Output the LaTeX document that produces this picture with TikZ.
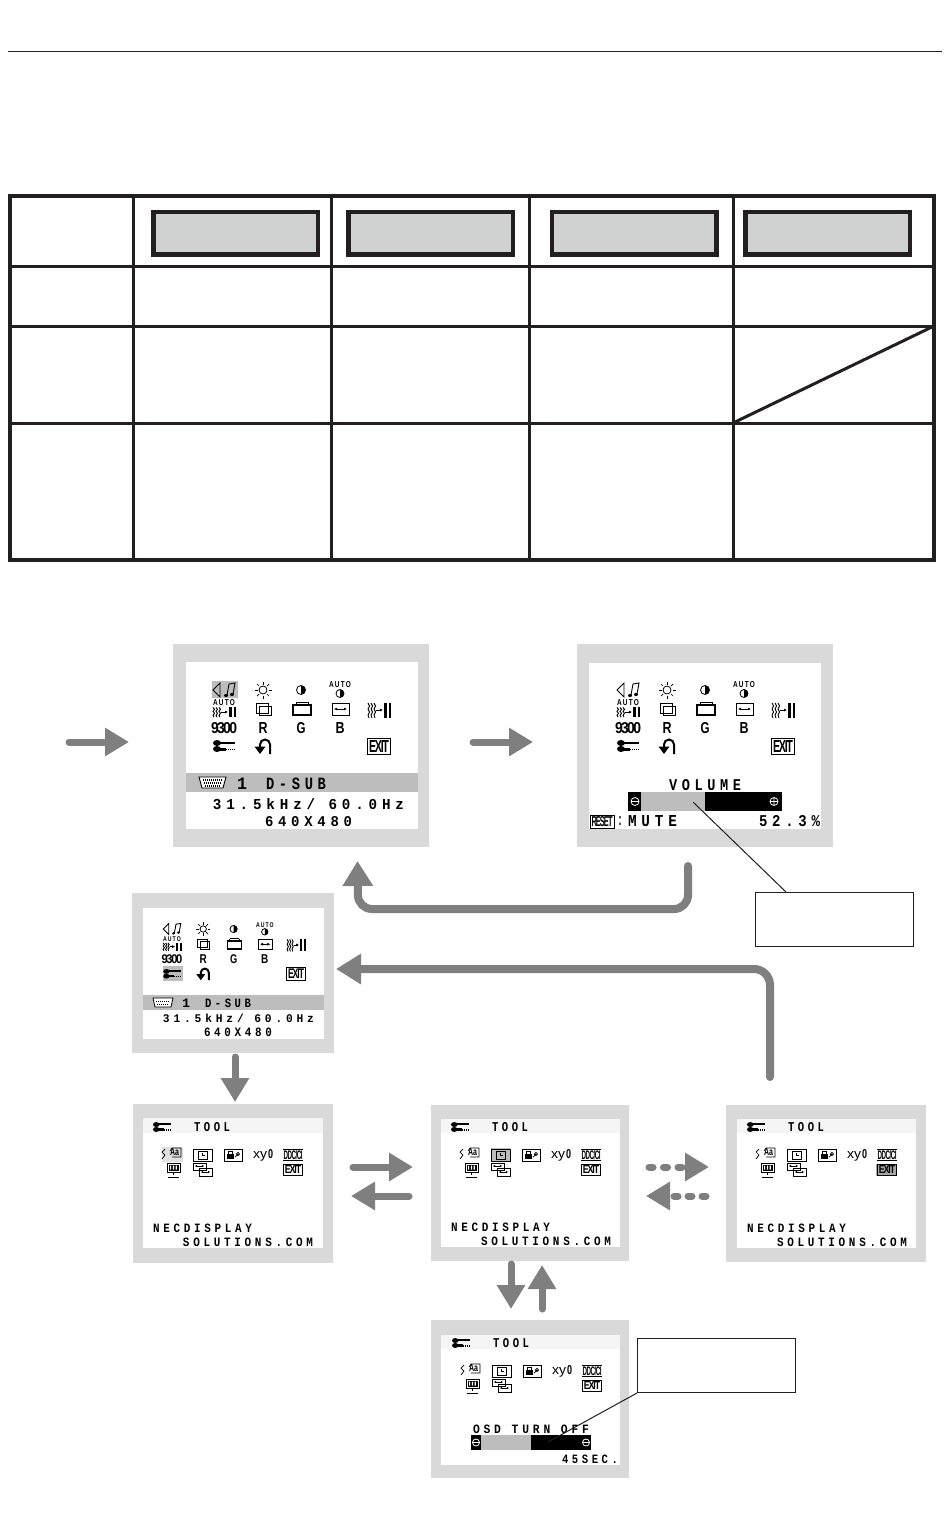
\documentclass[tikz,border=0pt]{standalone}
\usepackage{fontspec}
\usepackage{graphicx}
\setmainfont{Liberation Sans}
\newfontfamily\osdmono{Liberation Mono}
\usetikzlibrary{arrows.meta}
\definecolor{agray}{HTML}{7F7F7F}
\definecolor{pgray}{HTML}{D9D9D9}
\definecolor{bgray}{HTML}{D0D2D1}
\definecolor{hgray}{HTML}{BDBDBD}
\definecolor{ink}{HTML}{231F20}
\newcount\tn
\def\s{1}
\def\lh{10}
\let\ff\relax
\newcommand\osdf[1]{\ff\fontsize{12}{12}\bfseries\addfontfeature{LetterSpace=#1}}
% [letter spacing]{cx}{cy}{width}{height}{text}
\newcommand\fit[6][20]{\global\advance\tn by 1
  \pgfmathsetmacro\fw{#4*\s}\pgfmathsetmacro\fh{#5*\s}
  \node[osdtxt] (t\the\tn) at (#2,#3) {\resizebox{\fw pt}{\fh pt}{\osdf{#1}#6}};}
% from x0 to x1 on line y, fixed pitch
\newcommand\lin[5][34]{\pgfmathsetmacro\cxx{(#2+#3)/2}\pgfmathsetmacro\wxx{(#3)-(#2)}
  \let\ff\osdmono\fit[#1]{\cxx}{#4}{\wxx}{\lh}{#5}\let\ff\relax}
\newcommand\wrench[2]{\begin{scope}[shift={(#1,#2)}]
  \fill (-7,-3) ellipse (4 and 3);
  \fill (-7,-4.5) rectangle (11,-2);
  \fill (-7,3) ellipse (4 and 3);
  \fill (-7,1.8) rectangle (2,4.6);
  \draw[line width=1.6pt,dash pattern=on 1pt off 1pt] (2,3.4) -- (11,3.4);
  \end{scope}}
\newcommand\exitbox[2]{\draw[line width=.8pt] (#1-11.5,#2-8) rectangle (#1+11.5,#2+8);
  \fit[-12]{#1}{#2}{20}{12}{EXIT}}
\newcommand\phase[3]{\begin{scope}[shift={(#1,#2)},yscale=#3]
  \foreach \q in {-11,-8,-5}{\draw[line width=.9pt] (\q,-7) -- (\q+1.5,-4) -- (\q,-1) -- (\q+1.5,2) -- (\q,5) -- (\q+1,8);}
  \draw[line width=.8pt,-{Latex[length=3pt,width=3pt]}] (-3,0) -- (4,0);
  \draw[line width=2.2pt] (6.5,-7) -- (6.5,8) (11,-7) -- (11,8);
  \end{scope}}
\newcommand\contrast[3]{\draw[line width=.8pt] (#1,#2) circle (#3);
  \fill (#1,#2-#3) arc (-90:90:#3) -- cycle;}
% main OSD icon block: origin at the speaker icon
\newcommand\mainicons[3]{\begin{scope}[shift={(#1,#2)},x=#3pt,y=-#3pt]\def\s{#3}
  \draw[line width=.8pt] (-11,0) -- (-4,-7) -- (-4,7) -- cycle;
  \draw[line width=.9pt] (3,5) -- (5,-6) -- (11,-7) -- (9,4);
  \fill (2,5.5) ellipse (2 and 1.6); \fill (8,4.5) ellipse (2 and 1.6);
  \begin{scope}[shift={(39,0)}]
    \draw[line width=.8pt] (0,0) circle (4);
    \foreach \a in {0,45,...,315}{\draw[line width=.7pt] (\a:5.5) -- (\a:8.5);}
  \end{scope}
  \contrast{77}{0}{4.5}
  \fit{116}{-5}{22}{6}{AUTO}
  \contrast{116}{3.5}{4}
  \fit{0}{13}{22}{6}{AUTO}
  \phase{0}{22}{.65}
  \draw[line width=.8pt] (32,13) rectangle (44,23);
  \draw[line width=.8pt] (35,16) rectangle (47,25.5);
  \draw[line width=.8pt] (72,12) -- (72,16) (84,12) -- (84,16) (72,12) -- (84,12);
  \draw[line width=1.2pt] (69,15) rectangle (87,25);
  \draw[line width=.8pt] (108,13) rectangle (125,25);
  \draw[line width=.7pt,{Latex[length=3pt,width=3pt]}-{Latex[length=3pt,width=3pt]}] (110,19) -- (123,19);
  \phase{155}{20}{1}
  \fit[-12]{0}{38}{26}{11}{9300}
  \fit{39}{38}{9}{11}{R}
  \fit{77}{38}{9}{11}{G}
  \fit{116}{38}{9}{11}{B}
  \wrench{0}{56}
  \draw[line width=2pt] (46,64) -- (46,54.5) arc (0:-180:5) -- (36,58);
  \fill (30.5,56.5) -- (41.5,56.5) -- (36,64) -- cycle;
  \exitbox{155}{56}
  \end{scope}}
% TOOL OSD icon block: origin at the wrench icon in the header
\newcommand\toolicons[2]{\begin{scope}[shift={(#1,#2)}]
  \begin{scope}[scale=.82]\wrench{0}{0}\end{scope}
  \let\ff\osdmono\fit[34]{50}{0}{36}{9}{TOOL}\let\ff\relax
  \begin{scope}[shift={(0,28)}]
    \draw[line width=.7pt] (3,-6) -- (0,-3) -- (3,0) -- (0,4);
    \draw[line width=.7pt] (8,-4) -- (10,-7) -- (19,-7) -- (19,2) -- (10,2);
    \fit[0]{12.5}{-2.5}{9}{7}{Aa}
    \draw[line width=.8pt] (31,-6) rectangle (50,6);
    \draw[line width=.7pt] (36,-4) rectangle (45,4);
    \draw[line width=.7pt] (40.5,-2.5) -- (40.5,0) -- (43,0);
    \draw[line width=.8pt] (62,-6) rectangle (80,6);
    \fill (65,-1.5) rectangle (72,4);
    \draw[line width=1pt] (66.5,-1.5) -- (66.5,-4) -- (70.5,-4) -- (70.5,-1.5);
    \draw[line width=.7pt] (76,-1) circle (1.6) -- (73,2);
    \fit[0]{98}{1}{14}{7}{\mdseries xy}
    \fit[0]{108.5}{-1}{5}{9}{0}
    \fit[-8]{131}{0}{19}{9}{DDC/CI}
    \draw[line width=.7pt] (121,-5.5) -- (141,-5.5) (121,5.5) -- (141,5.5);
  \end{scope}
  \begin{scope}[shift={(0,41)}]
    \draw[line width=.8pt] (5,-5) rectangle (18,4);
    \fill (6.5,-3.5) rectangle (16.5,2.5);
    \fill[white] (8,-2.5) rectangle (9.2,1.5) (10.8,-2.5) rectangle (12,1.5) (13.6,-2.5) rectangle (14.8,1.5);
    \draw[line width=.8pt] (11.5,4) -- (11.5,7) (6,9) -- (17,9);
    \draw[line width=.7pt] (31,-5) rectangle (44,2);
    \draw[line width=.7pt] (37,0) rectangle (50,8);
    \draw[line width=.6pt,{Latex[length=2pt,width=2.5pt]}-{Latex[length=2pt,width=2.5pt]}] (33,-2) -- (42,-2);
    \draw[line width=.6pt,{Latex[length=2pt,width=2.5pt]}-{Latex[length=2pt,width=2.5pt]}] (39,4) -- (48,4);
    \draw[line width=.8pt] (121.5,-3.5) rectangle (140.5,7);
    \fit[-12]{131}{1.8}{16.5}{8}{EXIT}
  \end{scope}
  \end{scope}}
\newcommand\signature[2]{\lin{#1}{#1+99}{#2}{NECDISPLAY}\lin{#1+30}{#1+160}{#2+14}{SOLUTIONS.COM}}
\tikzset{
  x=1pt,y=-1pt,
  osdtxt/.style={inner sep=0pt,outer sep=0pt,text=black},
  panelbox/.style={fill=pgray,inner sep=0pt,anchor=north west},
  screen/.style={fill=white,inner sep=0pt,anchor=north west},
  hdrbox/.style={draw=ink,line width=4.5pt,fill=bgray,inner sep=0pt,anchor=north west,minimum width=164.5pt,minimum height=42.5pt},
  calloutbox/.style={draw=ink,line width=1pt,fill=white,inner sep=0pt,anchor=north west,minimum width=158pt,minimum height=54pt},
  calloutline/.style={draw=ink,line width=1pt},
  garrow/.style={draw=agray,line width=7pt,line cap=round,-{Triangle[length=24pt,width=27pt,fill=agray]}},
  garrowb/.style={draw=agray,line width=8pt,line cap=round,-{Triangle[length=25pt,width=29pt,fill=agray]}},
  tblout/.style={draw=ink,line width=4pt},
  tblin/.style={draw=ink,line width=3pt},
}
\begin{document}
\begin{tikzpicture}
\useasboundingbox (0,0) rectangle (950,1538);
\fill[white] (0,0) rectangle (950,1538);
% top rule
\coordinate (r0) at (8,52); \coordinate (r1) at (942,52);
\draw[draw=ink,line width=1pt] (r0) -- (r1);
% table
\draw[tblin] (133,196) -- (133,560) (331,196) -- (331,560) (529,196) -- (529,560) (733,196) -- (733,560);
\draw[tblin] (10,266) -- (934,266) (10,326) -- (934,326) (10,423) -- (934,423);
\draw[tblin] (733,423) -- (934,326);
\draw[tblout] (10,196.5) rectangle (934,560);
\node[hdrbox] (h1) at (151,210) {};
\node[hdrbox] (h2) at (346,210) {};
\node[hdrbox] (h3) at (549.5,210) {};
\node[hdrbox] (h4) at (743,210) {};
% panel A
\node[panelbox,minimum width=256pt,minimum height=203pt] (pA) at (173,644) {};
\node[screen,minimum width=232pt,minimum height=167pt] (sA) at (186,662) {};
\fill[hgray] (212,681) rectangle (238,698);
\fill[hgray] (186,773) rectangle (418,792);
\mainicons{224}{690}{1}
\draw[line width=.9pt,fill=white] (199,777) -- (226,777) -- (223,788) -- (202,788) -- cycle;
\draw[line width=1.2pt,dash pattern=on 1pt off 1pt] (203,780) -- (222,780) (204,783) -- (221,783) (205,786) -- (220,786);
\def\lh{11.5}
\lin{237}{247}{784}{1}
\lin{266}{326}{784}{D-SUB}
\def\lh{11}
\lin{213}{404}{804}{31.5kHz/ 60.0Hz}
\def\lh{10}
\lin{265}{352}{821.5}{640X480}
% panel B
\node[panelbox,minimum width=256pt,minimum height=203pt] (pB) at (577,644) {};
\node[screen,minimum width=232pt,minimum height=166pt] (sB) at (589,663) {};
\mainicons{628}{690}{1}
\def\lh{11}
\lin{669}{741}{785}{VOLUME}
\fill (628,792) rectangle (782,811);
\fill[hgray] (641,792) rectangle (705,811);
\draw[white,line width=.8pt] (635,801.5) circle (4) (631,801.5) -- (639,801.5);
\draw[white,line width=.8pt] (774,801.5) circle (4) (770,801.5) -- (778,801.5) (774,797.5) -- (774,805.5);
\draw[line width=.8pt] (590,815) rectangle (614,828);
\fit[-12]{602}{821.5}{21}{10}{RESET}
\fit{620}{821}{3}{9}{:}
\lin{628}{677}{821.5}{MUTE}
\lin{759}{820}{821.5}{52.3\%}
% panel C
\node[panelbox,minimum width=202pt,minimum height=160pt] (pC) at (132,893) {};
\node[screen,minimum width=181pt,minimum height=131pt] (sC) at (143,908) {};
\fill[hgray] (163,966) rectangle (183,981);
\fill[hgray] (143,995) rectangle (324,1010);
\mainicons{172}{929}{.8}
\draw[line width=.8pt,fill=white] (153,998) -- (173,998) -- (171,1007) -- (155,1007) -- cycle;
\draw[line width=1pt,dash pattern=on 1pt off 1pt] (156,1001) -- (170,1001) (157,1004) -- (169,1004);
\def\lh{8.5}
\lin{182}{190}{1003}{1}
\lin{205}{251}{1003}{D-SUB}
\lin{163}{314}{1018.5}{31.5kHz/ 60.0Hz}
\lin{204}{272}{1032}{640X480}
% panel D
\node[panelbox,minimum width=200pt,minimum height=159pt] (pD) at (133,1104) {};
\node[screen,minimum width=180pt,minimum height=130pt] (sD) at (143,1118) {};
\fill[black!4] (143,1118) rectangle (323,1133);
\fill[black!12] (162,1147) rectangle (183,1162);
\toolicons{162}{1127}
\signature{153}{1228}
% panel E
\node[panelbox,minimum width=198pt,minimum height=156pt] (pE) at (431,1105) {};
\node[screen,minimum width=179pt,minimum height=128pt] (sE) at (441,1119) {};
\fill[black!4] (441,1119) rectangle (620,1133);
\fill[hgray] (491,1148) rectangle (510,1161);
\toolicons{460}{1127}
\signature{451}{1227}
% panel F
\node[panelbox,minimum width=200pt,minimum height=157pt] (pF) at (726,1105) {};
\node[screen,minimum width=179pt,minimum height=129pt] (sF) at (737,1119) {};
\fill[black!4] (737,1119) rectangle (916,1133);
\fill[black!35] (876,1164) rectangle (897,1176);
\toolicons{756}{1127}
\signature{747}{1228}
% panel G
\node[panelbox,minimum width=198pt,minimum height=158pt] (pG) at (431,1320) {};
\node[screen,minimum width=179pt,minimum height=130pt] (sG) at (441,1335) {};
\fill[black!4] (441,1335) rectangle (620,1349);
\toolicons{461}{1343}
\def\lh{8.5}
\lin{473}{589}{1429.5}{OSD TURN OFF}
\fill (471,1435) rectangle (591,1450);
\fill[hgray] (481,1435) rectangle (531,1450);
\draw[white,line width=.8pt] (476,1442.5) circle (3.5) (473,1442.5) -- (479,1442.5);
\draw[white,line width=.8pt] (586,1442.5) circle (3.5) (583,1442.5) -- (589,1442.5);
\lin{562}{618}{1459}{45SEC.}
% callouts
\node[calloutbox] (c1) at (755,892) {};
\node[calloutbox] (c2) at (637,1338) {};
\coordinate (l1a) at (693,802); \coordinate (l1b) at (786,892);
\draw[calloutline] (l1a) -- (l1b);
\coordinate (l2a) at (548,1442);
\draw[calloutline] (l2a) -- (c2.south west);
% arrows
\coordinate (a1s) at (69,742); \coordinate (a1e) at (129,742);
\draw[garrow] (a1s) -- (a1e);
\coordinate (a2s) at (473,742); \coordinate (a2e) at (533,742);
\draw[garrow] (a2s) -- (a2e);
\coordinate (a3s) at (688,866); \coordinate (a3c) at (688,909); \coordinate (a3d) at (358,909); \coordinate (a3e) at (357.5,861);
\draw[garrowb,rounded corners=14pt] (a3s) -- (a3c) -- (a3d) -- (a3e);
\coordinate (a4s) at (770,1077); \coordinate (a4c) at (770,969); \coordinate (a4e) at (336,969);
\draw[garrowb,rounded corners=16pt] (a4s) -- (a4c) -- (a4e);
\coordinate (a5s) at (235,1057); \coordinate (a5e) at (235,1102);
\draw[garrow] (a5s) -- (a5e);
\coordinate (a6s) at (353,1167); \coordinate (a6e) at (413,1167);
\draw[garrow] (a6s) -- (a6e);
\coordinate (a7s) at (409,1196); \coordinate (a7e) at (351,1196);
\draw[garrow] (a7s) -- (a7e);
\coordinate (a8s) at (649,1167); \coordinate (a8e) at (709,1167);
\draw[garrow,dash pattern=on 4pt off 10.5pt] (a8s) -- (a8e);
\coordinate (a9s) at (706,1196); \coordinate (a9e) at (646,1196);
\draw[garrow,dash pattern=on 4pt off 10pt] (a9s) -- (a9e);
\coordinate (a10s) at (511,1264); \coordinate (a10e) at (511,1309);
\draw[garrow] (a10s) -- (a10e);
\coordinate (a11s) at (542,1309); \coordinate (a11e) at (542,1265);
\draw[garrow] (a11s) -- (a11e);
\end{tikzpicture}
\end{document}
